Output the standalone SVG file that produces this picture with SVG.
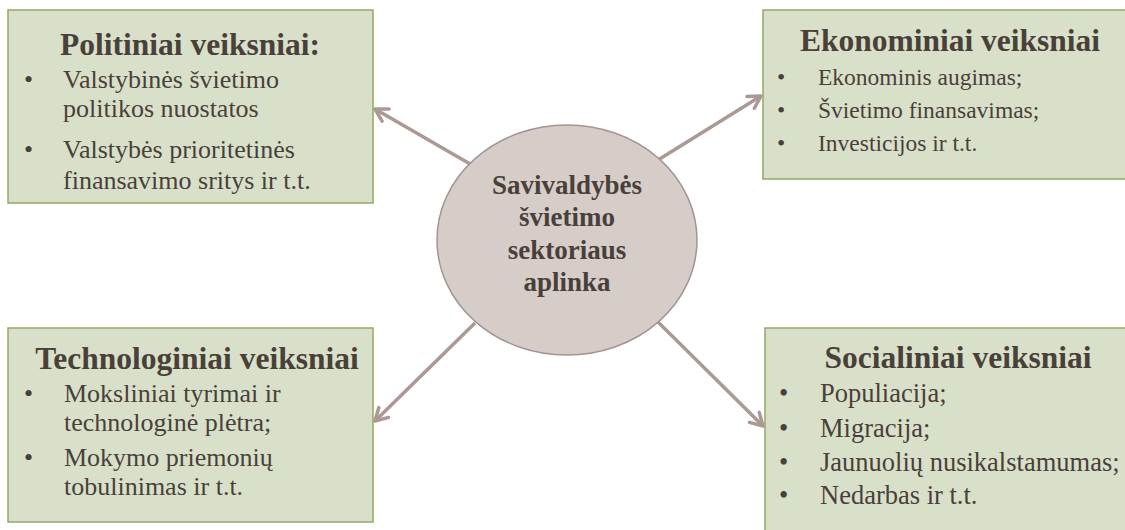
<svg xmlns="http://www.w3.org/2000/svg" width="1125" height="530" viewBox="0 0 1125 530">
<style>
.box{fill:#d8e0c9;stroke:#95a866;stroke-width:1.5}
.t{font-family:"Liberation Serif",serif;fill:#4a403a}
.h{font-size:31.5px;font-weight:bold;text-anchor:middle}
.b{font-size:26px}
.b2{font-size:23.5px}
.b3{font-size:26.5px}
.c{font-size:27px;font-weight:bold;text-anchor:middle}
.conn{stroke:#ab9993;stroke-width:3.5;fill:none;marker-end:url(#ah)}
</style>
<defs>
<marker id="ah" viewBox="0 0 10 10" refX="8" refY="5" markerWidth="5" markerHeight="5" orient="auto" markerUnits="strokeWidth">
<path d="M1,1 L8,5 L1,9" fill="none" stroke="#ab9993" stroke-width="2" stroke-linecap="round" stroke-linejoin="round"/>
</marker>
</defs>
<rect width="1125" height="530" fill="#ffffff"/>
<g id="connectors">
<line class="conn" x1="477" y1="168" x2="375" y2="109"/>
<line class="conn" x1="658" y1="160" x2="761" y2="96"/>
<line class="conn" x1="475" y1="323" x2="375" y2="421"/>
<line class="conn" x1="658" y1="322" x2="763" y2="426"/>
</g>
<g id="center">
<ellipse cx="567" cy="240" rx="130" ry="115" fill="#d6cdc9" stroke="#a3958f" stroke-width="1.5"/>
<text class="t c" x="567" y="194">Savivaldybės</text>
<text class="t c" x="567" y="226">švietimo</text>
<text class="t c" x="567" y="259">sektoriaus</text>
<text class="t c" x="567" y="291">aplinka</text>
</g>
<g id="politiniai">
<rect class="box" x="8" y="10" width="365" height="193"/>
<text class="t h" x="190" y="55">Politiniai veiksniai:</text>
<text class="t b" x="24" y="88">•</text><text class="t b" x="63" y="88">Valstybinės švietimo</text>
<text class="t b" x="63" y="117">politikos nuostatos</text>
<text class="t b" x="24" y="158">•</text><text class="t b" x="63" y="158">Valstybės prioritetinės</text>
<text class="t b" x="63" y="189">finansavimo sritys ir t.t.</text>
</g>
<g id="ekonominiai">
<rect class="box" x="763" y="10" width="370" height="169"/>
<text class="t h" x="950" y="51">Ekonominiai veiksniai</text>
<text class="t b2" x="777" y="85">•</text><text class="t b2" x="818" y="85">Ekonominis augimas;</text>
<text class="t b2" x="777" y="118">•</text><text class="t b2" x="818" y="118">Švietimo finansavimas;</text>
<text class="t b2" x="777" y="151">•</text><text class="t b2" x="818" y="151">Investicijos ir t.t.</text>
</g>
<g id="technologiniai">
<rect class="box" x="8" y="328" width="365" height="194"/>
<text class="t h" x="197" y="369">Technologiniai veiksniai</text>
<text class="t b" x="24" y="402">•</text><text class="t b" x="64" y="402">Moksliniai tyrimai ir</text>
<text class="t b" x="64" y="431">technologinė plėtra;</text>
<text class="t b" x="24" y="466">•</text><text class="t b" x="64" y="466">Mokymo priemonių</text>
<text class="t b" x="64" y="495">tobulinimas ir t.t.</text>
</g>
<g id="socialiniai">
<rect class="box" x="765" y="328" width="370" height="210"/>
<text class="t h" x="958" y="368">Socialiniai veiksniai</text>
<text class="t b3" x="779" y="402">•</text><text class="t b3" x="820" y="402">Populiacija;</text>
<text class="t b3" x="779" y="437">•</text><text class="t b3" x="820" y="437">Migracija;</text>
<text class="t b3" x="779" y="471">•</text><text class="t b3" x="820" y="471">Jaunuolių nusikalstamumas;</text>
<text class="t b3" x="779" y="504">•</text><text class="t b3" x="820" y="504">Nedarbas ir t.t.</text>
</g>
</svg>
